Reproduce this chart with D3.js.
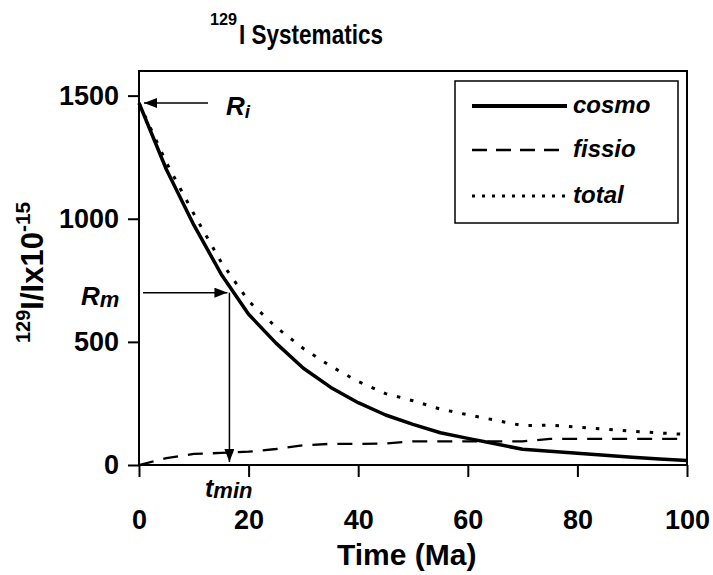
<!DOCTYPE html>
<html>
<head>
<meta charset="utf-8">
<script src="https://cdn.jsdelivr.net/npm/d3@7"></script>
<style>
  body { margin: 0; background: #fff; }
  svg text { font-family: "Liberation Sans", Arial, Helvetica, sans-serif; font-weight: bold; fill: #000; }
</style>
</head>
<body>
<svg id="chart" width="713" height="575"></svg>
<script>
// 129I systematics: cosmogenic decay, fissiogenic build-up and their total (129I/I x 10^-15)
const timeMa = [0, 5, 10, 15, 20, 25, 30, 35, 40, 45, 50, 55, 60, 65, 70, 75, 80, 85, 90, 95, 100];
const cosmo  = [1470, 1200, 975, 775, 612, 495, 393, 315, 253, 203, 165, 131, 108, 86, 64, 56, 48, 40, 31, 24, 18];
const fissio = [0, 28, 45, 49, 54, 65, 80, 86, 86, 87, 96, 96, 96, 96, 96, 106, 106, 106, 106, 106, 106];
const total  = [1470, 1228, 1020, 824, 666, 560, 473, 401, 339, 290, 261, 227, 204, 182, 160, 162, 154, 146, 137, 130, 124];
const seriesNames = ["cosmo", "fissio", "total"];
const xTicks = [0, 20, 40, 60, 80, 100];
const yTicks = [0, 500, 1000, 1500];
const initialRatio = 1470;   // R_i
const minRatio = 700;        // R_m
const minTime = 16.5;        // t_min

const svg = d3.select("#chart");
const x = d3.scaleLinear().domain([0, 100]).range([139, 687]);
const y = d3.scaleLinear().domain([0, 1600]).range([465, 71]);

const styles = {
  cosmo:  { width: 3.5, dash: null,       legendWidth: 4,   legendDash: null },
  fissio: { width: 2.3, dash: "15,10",    legendWidth: 2.3, legendDash: "15,9" },
  total:  { width: 3,   dash: "3.5,10",   legendWidth: 3,   legendDash: "3,7" }
};
const values = { cosmo, fissio, total };

// axes
const xAxis = svg.append("g").attr("transform", `translate(0,${y(0)})`)
  .call(d3.axisBottom(x).tickValues(xTicks).tickSize(12).tickPadding(33).tickFormat(d3.format("d")));
const yAxis = svg.append("g").attr("transform", `translate(${x(0)},0)`)
  .call(d3.axisLeft(y).tickValues(yTicks).tickSize(11).tickPadding(9).tickFormat(d3.format("d")));
[xAxis, yAxis].forEach(g => {
  g.select(".domain").remove();
  g.selectAll(".tick line").attr("stroke", "#000").attr("stroke-width", 2);
  g.selectAll(".tick text").style("font-size", "27px").attr("fill", "#000");
});

// plot frame
svg.append("rect")
  .attr("x", x(0)).attr("y", y(1600))
  .attr("width", x(100) - x(0)).attr("height", y(0) - y(1600))
  .attr("fill", "none").attr("stroke", "#000").attr("stroke-width", 2);

// series lines (total, fissio underneath cosmo)
const line = d3.line().x((d, i) => x(timeMa[i])).y(d => y(d)).curve(d3.curveLinear);
["total", "fissio", "cosmo"].forEach(name => {
  const s = styles[name];
  svg.append("path")
    .datum(values[name])
    .attr("d", line)
    .attr("fill", "none")
    .attr("stroke", "#000")
    .attr("stroke-width", s.width)
    .attr("stroke-dasharray", s.dash)
    .attr("stroke-linejoin", "round");
});

// arrow marker
svg.append("defs").append("marker")
  .attr("id", "head").attr("viewBox", "0 0 13 10")
  .attr("refX", 13).attr("refY", 5)
  .attr("markerWidth", 13).attr("markerHeight", 10)
  .attr("markerUnits", "userSpaceOnUse").attr("orient", "auto")
  .append("path").attr("d", "M0,0L13,5L0,10Z").attr("fill", "#000");

function arrow(x1, y1, x2, y2) {
  svg.append("line").attr("x1", x1).attr("y1", y1).attr("x2", x2).attr("y2", y2)
    .attr("stroke", "#000").attr("stroke-width", 1.5).attr("marker-end", "url(#head)");
}
// R_i arrow pointing at the initial ratio
arrow(208, y(initialRatio), x(0) + 5, y(initialRatio));
// R_m arrow to the curve, then down to t_min
arrow(x(0) + 4, y(minRatio), x(minTime) - 2, y(minRatio));
arrow(x(minTime), y(minRatio), x(minTime), y(0) - 3);

function subLabel(px, py, main, sub, mainSize, subSize, dy) {
  const t = svg.append("text").attr("x", px).attr("y", py).style("font-style", "italic");
  t.append("tspan").text(main).style("font-size", mainSize + "px");
  t.append("tspan").text(sub).style("font-size", subSize + "px").attr("dy", dy);
}
subLabel(226, 115, "R", "i", 26, 19, 3);
subLabel(81, 305, "R", "m", 26, 22, 2);
subLabel(205, 497, "t", "min", 25, 22, 1);

// legend
svg.append("rect").attr("x", 455).attr("y", 81).attr("width", 223).attr("height", 142)
  .attr("fill", "#fff").attr("stroke", "#000").attr("stroke-width", 1.5);
const legendY = [106, 150, 196];
seriesNames.forEach((name, i) => {
  const s = styles[name];
  svg.append("line").attr("x1", 472).attr("x2", 567).attr("y1", legendY[i]).attr("y2", legendY[i])
    .attr("stroke", "#000").attr("stroke-width", s.legendWidth).attr("stroke-dasharray", s.legendDash);
  svg.append("text").attr("x", 573).attr("y", legendY[i] + 7)
    .style("font-size", "24px").style("font-style", "italic").text(name);
});

// title (condensed face)
svg.append("text").attr("x", 210).attr("y", 25).style("font-size", "17px")
  .attr("textLength", 27).attr("lengthAdjust", "spacingAndGlyphs").text("129");
svg.append("text").attr("x", 239).attr("y", 44).style("font-size", "27px")
  .attr("textLength", 144).attr("lengthAdjust", "spacingAndGlyphs").text("I Systematics");

// axis titles
svg.append("text").attr("x", 337).attr("y", 565).style("font-size", "30px").text("Time (Ma)");
const yt = svg.append("text").attr("transform", "translate(43,343) rotate(-90)");
yt.append("tspan").text("129").style("font-size", "20px").attr("dy", -13);
yt.append("tspan").text("I/Ix10").style("font-size", "31px").attr("dy", 13);
yt.append("tspan").text("-15").style("font-size", "21px").attr("dy", -13);
</script>
</body>
</html>
